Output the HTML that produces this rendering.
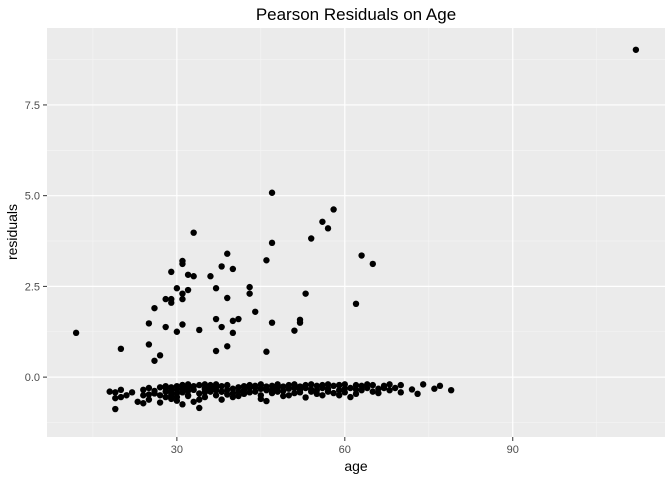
<!DOCTYPE html>
<html><head><meta charset="utf-8"><style>
body{margin:0;background:#fff;font-family:"Liberation Sans",sans-serif}
svg text{font-family:"Liberation Sans",sans-serif}
</style></head><body>
<svg id="chart" width="672" height="480" xmlns="http://www.w3.org/2000/svg">
<text x="356" y="20" font-size="17" text-anchor="middle" fill="#000">Pearson Residuals on Age</text>
<rect x="47" y="28" width="618" height="409" fill="#ebebeb"/>
<g id="grid"></g>
<g id="points"></g>
<g id="axes"></g>
<text x="356" y="471" font-size="14" text-anchor="middle">age</text>
<text x="17" y="232" font-size="14" text-anchor="middle" transform="rotate(-90 17 232)">residuals</text>
</svg>
<script>
const ages=[12,20,25,25,26,26,27,28,28,29,29,29,30,30,31,31,31,31,31,32,32,33,33,34,36,37,37,37,38,38,39,39,39,40,40,40,41,43,43,44,46,46,47,47,47,51,52,52,53,54,56,57,58,62,63,65,112,
18,19,19,19,20,20,21,22,23,24,24,24,25,25,25,26,26,27,27,27,28,28,28,28,29,29,29,29,29,30,30,30,30,30,31,31,31,31,32,32,32,32,33,33,33,34,34,34,35,35,35,35,36,36,36,37,37,37,38,38,38,39,39,39,40,40,40,41,41,41,42,42,42,43,43,43,44,44,45,45,45,45,46,46,46,47,47,47,48,48,48,49,49,49,50,50,50,51,51,51,52,52,52,53,53,53,54,54,54,55,55,55,56,56,56,57,57,57,58,58,59,59,59,60,60,60,61,61,62,62,62,63,63,64,64,65,65,66,66,67,67,68,68,69,70,70,72,73,74,76,77,79,34,35,37,38,31,36,44,47,32,45,59];
const resid=[1.22,0.78,0.9,1.48,1.9,0.45,0.6,2.15,1.38,2.9,2.15,2.05,2.45,1.25,3.2,3.12,2.3,1.45,2.15,2.4,2.82,3.98,2.78,1.3,2.78,2.45,1.6,0.72,3.05,1.38,2.18,0.85,3.4,2.98,1.55,1.22,1.6,2.48,2.3,1.8,3.22,0.7,5.08,3.7,1.5,1.28,1.58,1.5,2.3,3.82,4.28,4.1,4.62,2.02,3.35,3.12,9.02,
-0.4,-0.42,-0.58,-0.88,-0.35,-0.55,-0.5,-0.42,-0.68,-0.5,-0.72,-0.35,-0.48,-0.3,-0.62,-0.38,-0.45,-0.28,-0.5,-0.7,-0.25,-0.4,-0.55,-0.3,-0.45,-0.6,-0.28,-0.36,-0.5,-0.65,-0.25,-0.35,-0.45,-0.55,-0.75,-0.22,-0.32,-0.42,-0.52,-0.28,-0.38,-0.5,-0.68,-0.25,-0.35,-0.45,-0.62,-0.85,-0.3,-0.42,-0.55,-0.2,-0.3,-0.4,-0.22,-0.36,-0.5,-0.28,-0.4,-0.62,-0.25,-0.35,-0.48,-0.22,-0.32,-0.45,-0.55,-0.28,-0.4,-0.52,-0.25,-0.36,-0.46,-0.22,-0.3,-0.42,-0.28,-0.4,-0.6,-0.2,-0.32,-0.5,-0.26,-0.36,-0.66,-0.24,-0.34,-0.44,-0.2,-0.3,-0.4,-0.52,-0.26,-0.38,-0.5,-0.22,-0.32,-0.44,-0.2,-0.3,-0.42,-0.26,-0.36,-0.56,-0.22,-0.3,-0.4,-0.2,-0.34,-0.46,-0.24,-0.36,-0.5,-0.22,-0.3,-0.4,-0.2,-0.32,-0.44,-0.24,-0.36,-0.5,-0.22,-0.32,-0.42,-0.2,-0.3,-0.55,-0.22,-0.34,-0.46,-0.24,-0.36,-0.2,-0.3,-0.4,-0.22,-0.32,-0.44,-0.3,-0.24,-0.36,-0.2,-0.3,-0.42,-0.22,-0.34,-0.46,-0.2,-0.32,-0.24,-0.36,-0.22,-0.34,-0.2,-0.4,-0.22,-0.3,-0.24,-0.36,-0.2,-0.32,-0.22,-0.36,-0.26,-0.3,-0.12,-0.18,-0.22,-0.15,-0.2,-0.22,-0.17,-0.15,
-1.1,-1.12,-1.15,-0.85,-0.72,-0.8,-0.6,-0.62,-0.78,-0.72,-0.83];
const xTicks=[30,60,90];
const yTicks=[0,2.5,5,7.5];
const yTickLabels=["0.0","2.5","5.0","7.5"];
const NS="http://www.w3.org/2000/svg";
const X0=47,X1=665,Y0=28,Y1=437;
const xmin=6.8,xmax=117.2,ymin=-1.65,ymax=9.62;
const sx=v=>X0+(v-xmin)/(xmax-xmin)*(X1-X0);
const sy=v=>Y1-(v-ymin)/(ymax-ymin)*(Y1-Y0);
function mk(t,a,p){const e=document.createElementNS(NS,t);for(const k in a)e.setAttribute(k,a[k]);p.appendChild(e);return e;}
const grid=document.getElementById('grid'),axes=document.getElementById('axes'),pts=document.getElementById('points');
const minorX=[15,45,75,105],minorY=[-1.25,1.25,3.75,6.25,8.75];
minorX.forEach(v=>{const l=mk('line',{x1:sx(v),x2:sx(v),y1:Y0,y2:Y1,stroke:'#f5f5f5','stroke-width':0.6},grid);});
minorY.forEach(v=>{const l=mk('line',{x1:X0,x2:X1,y1:sy(v),y2:sy(v),stroke:'#f5f5f5','stroke-width':0.6},grid);});
xTicks.forEach(v=>{const l=mk('line',{x1:sx(v),x2:sx(v),y1:Y0,y2:Y1,stroke:'#fff','stroke-width':1.2},grid);
const t=mk('line',{x1:sx(v),x2:sx(v),y1:Y1,y2:Y1+4,stroke:'#333','stroke-width':1},axes);
const tx=mk('text',{x:sx(v),y:Y1+16,'font-size':11,'text-anchor':'middle',fill:'#4d4d4d'},axes);tx.textContent=v;});
yTicks.forEach((v,i)=>{const l=mk('line',{x1:X0,x2:X1,y1:sy(v),y2:sy(v),stroke:'#fff','stroke-width':1.2},grid);
const t=mk('line',{x1:X0-4,x2:X0,y1:sy(v),y2:sy(v),stroke:'#333','stroke-width':1},axes);
const tx=mk('text',{x:X0-7,y:sy(v)+4,'font-size':11,'text-anchor':'end',fill:'#4d4d4d'},axes);tx.textContent=yTickLabels[i];});
ages.forEach((a,i)=>{const c=mk('circle',{cx:sx(a),cy:sy(resid[i]),r:3.2,fill:'#000'},pts);});
</script>
</body></html>
